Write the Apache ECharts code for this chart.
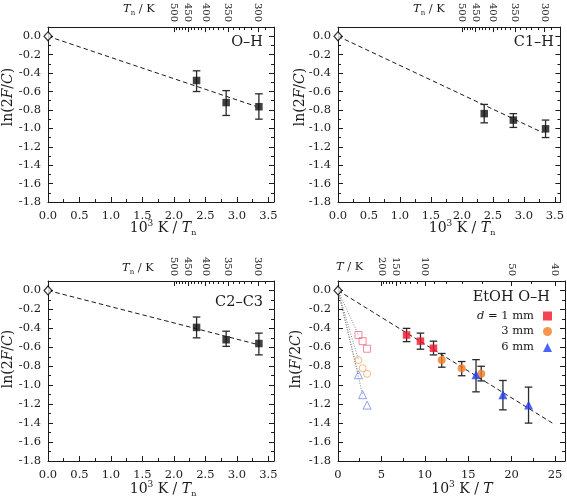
<!DOCTYPE html>
<html><head><meta charset="utf-8">
<script src="https://cdn.jsdelivr.net/npm/echarts@6/dist/echarts.min.js"></script>
<style>html,body{margin:0;padding:0;background:#fff}#c{width:567px;height:502px}</style>
</head><body><div id="c"></div>
<script>
const FONT = 'DejaVu Serif';
const C = '#1a1a1a';

// ---- tick labels ----
const xLabelsN = [0, 0.5, 1, 1.5, 2, 2.5, 3, 3.5];
const xMinorN = [0.25, 0.75, 1.25, 1.75, 2.25, 2.75, 3.25];
const xLabelsT = [0, 5, 10, 15, 20, 25];
const xMinorT = [2.5, 7.5, 12.5, 17.5, 22.5];
const yLabels = [-1.8, -1.6, -1.4, -1.2, -1.0, -0.8, -0.6, -0.4, -0.2, 0.0];
const yMinor = [-1.7, -1.5, -1.3, -1.1, -0.9, -0.7, -0.5, -0.3, -0.1];
const tnMajor = [500, 450, 400, 350, 300];
const tnMinor = [490, 480, 470, 460, 440, 430, 420, 410, 390, 380, 370, 360, 340, 330, 320, 310, 290];
const tMajor = [200, 150, 100, 50, 40];
const tMinor = [190, 180, 170, 160, 140, 130, 120, 110, 90, 80, 70, 60, 45];

// ---- data: panel O–H ----
const ohX = [2.36, 2.83, 3.35];
const ohY = [-0.48, -0.72, -0.765];
const ohLo = [-0.60, -0.86, -0.90];
const ohHi = [-0.375, -0.59, -0.625];
const ohFit = [[0, 0], [3.3, -0.76]];
// ---- panel C1–H ----
const c1X = [2.36, 2.83, 3.35];
const c1Y = [-0.84, -0.91, -1.005];
const c1Lo = [-0.94, -0.99, -1.10];
const c1Hi = [-0.74, -0.84, -0.91];
const c1Fit = [[0, 0], [3.3, -1.045]];
// ---- panel C2–C3 ----
const c2X = [2.36, 2.83, 3.35];
const c2Y = [-0.39, -0.52, -0.56];
const c2Lo = [-0.50, -0.59, -0.68];
const c2Hi = [-0.28, -0.43, -0.45];
const c2Fit = [[0, 0], [3.3, -0.565]];
// ---- panel EtOH O–H ----
const d1X = [7.9, 9.5, 11.0];
const d1Y = [-0.47, -0.535, -0.61];
const d1Lo = [-0.54, -0.62, -0.68];
const d1Hi = [-0.40, -0.45, -0.535];
const d3X = [11.95, 14.25, 16.5];
const d3Y = [-0.735, -0.82, -0.88];
const d3Lo = [-0.81, -0.90, -0.955];
const d3Hi = [-0.665, -0.75, -0.80];
const d6X = [15.9, 19.0, 21.95];
const d6Y = [-0.89, -1.10, -1.21];
const d6Lo = [-1.07, -1.26, -1.40];
const d6Hi = [-0.73, -0.95, -1.02];
const openX = [2.36, 2.83, 3.35];
const open1Y = [-0.47, -0.535, -0.615];
const open3Y = [-0.735, -0.82, -0.88];
const open6Y = [-0.89, -1.10, -1.21];
const etFit = [[0, 0], [24.7, -1.40]];
const guide1 = [[0, 0], [2.36, -0.47]];
const guide3 = [[0, 0], [2.36, -0.735]];
const guide6a = [[0, 0], [2.36, -0.89]];
const guide6b = [[0, 0], [2.83, -1.10]];
const origin = [[0, 0]];

const RED = '#f0142a', ORANGE = '#f57b20', BLUE = '#1f3cf5';
const RED_L = '#f26c80', ORANGE_L = '#f8a566', BLUE_L = '#7288f0';

const grids = [
  {left: 48, top: 22, width: 226, height: 180},
  {left: 338, top: 22, width: 227, height: 180},
  {left: 48, top: 281, width: 226, height: 180},
  {left: 338, top: 281, width: 227, height: 180}
];
const inv = t => 1000 / t;
function tick(len, vals) {
  return {show: true, inside: true, length: len, customValues: vals, lineStyle: {color: C, width: 1}};
}
const lineOn = {show: true, onZero: false, lineStyle: {color: C, width: 1}};
const lineOff = {show: false, onZero: false};

function makeX(g, max, labels, minor, fmt, topMajor, topMinor) {
  const base = {type: 'value', gridIndex: g, min: 0, max: max, splitLine: {show: false}};
  return [
    Object.assign({}, base, {position: 'bottom', axisLine: lineOn, axisTick: tick(5, labels),
      axisLabel: {customValues: labels, formatter: fmt, margin: 8, fontSize: 11.5, fontFamily: FONT, color: C}}),
    Object.assign({}, base, {position: 'bottom', axisLine: lineOff, axisTick: tick(3, minor), axisLabel: {show: false}}),
    Object.assign({}, base, {position: 'top', axisLine: lineOn, axisTick: tick(5, topMajor.map(inv)),
      axisLabel: {customValues: topMajor.map(inv), formatter: v => String(Math.round(1000 / v)), rotate: 90,
        margin: 5, fontSize: 10, fontFamily: FONT, color: C}}),
    Object.assign({}, base, {position: 'top', axisLine: lineOff, axisTick: tick(3, topMinor.map(inv)), axisLabel: {show: false}})
  ];
}
function makeY(g) {
  const base = {type: 'value', gridIndex: g, min: -1.8, max: 0.1, splitLine: {show: false}};
  return [
    Object.assign({}, base, {position: 'left', axisLine: lineOn, axisTick: tick(5, yLabels),
      axisLabel: {customValues: yLabels, formatter: v => v.toFixed(1), margin: 7, fontSize: 11.5, fontFamily: FONT, color: C}}),
    Object.assign({}, base, {position: 'left', axisLine: lineOff, axisTick: tick(3, yMinor), axisLabel: {show: false}}),
    Object.assign({}, base, {position: 'right', axisLine: lineOn, axisTick: tick(5, yLabels), axisLabel: {show: false}}),
    Object.assign({}, base, {position: 'right', axisLine: lineOff, axisTick: tick(3, yMinor), axisLabel: {show: false}})
  ];
}
const fmtN = v => v.toFixed(1);
const fmtT = v => String(v);
const xAxes = [].concat(
  makeX(0, 3.59, xLabelsN, xMinorN, fmtN, tnMajor, tnMinor),
  makeX(1, 3.59, xLabelsN, xMinorN, fmtN, tnMajor, tnMinor),
  makeX(2, 3.59, xLabelsN, xMinorN, fmtN, tnMajor, tnMinor),
  makeX(3, 26.15, xLabelsT, xMinorT, fmtT, tMajor, tMinor)
);
const yAxes = [].concat(makeY(0), makeY(1), makeY(2), makeY(3));

function pairs(xs, ys) { return xs.map((x, i) => [x, ys[i]]); }
function errSeries(g, xs, lo, hi) {
  return {
    type: 'custom', xAxisIndex: 4 * g, yAxisIndex: 4 * g, z: 3, silent: true,
    data: xs.map((x, i) => [x, lo[i], hi[i]]), encode: {x: 0, y: [1, 2]},
    renderItem: function (params, api) {
      const x = api.value(0);
      const p1 = api.coord([x, api.value(1)]);
      const p2 = api.coord([x, api.value(2)]);
      const h = 3.8;
      const st = {stroke: '#2a2a2a', lineWidth: 1.3};
      return {type: 'group', children: [
        {type: 'line', shape: {x1: p1[0], y1: p1[1], x2: p2[0], y2: p2[1]}, style: st},
        {type: 'line', shape: {x1: p1[0] - h, y1: p1[1], x2: p1[0] + h, y2: p1[1]}, style: st},
        {type: 'line', shape: {x1: p2[0] - h, y1: p2[1], x2: p2[0] + h, y2: p2[1]}, style: st}
      ]};
    }
  };
}
function ptSeries(g, name, xs, ys, symbol, size, color) {
  return {type: 'scatter', name: name, xAxisIndex: 4 * g, yAxisIndex: 4 * g, z: 4, silent: true,
    data: pairs(xs, ys), symbol: symbol, symbolSize: size, itemStyle: {color: color}};
}
function openSeries(g, xs, ys, symbol, size, color) {
  return {type: 'scatter', xAxisIndex: 4 * g, yAxisIndex: 4 * g, z: 4, silent: true,
    data: pairs(xs, ys), symbol: symbol, symbolSize: size,
    itemStyle: {color: 'rgba(255,255,255,0)', borderColor: color, borderWidth: 1}};
}
function lineSeries(g, data, type, color) {
  return {type: 'line', xAxisIndex: 4 * g, yAxisIndex: 4 * g, z: 2, silent: true, data: data,
    symbol: 'none', lineStyle: {color: color, width: 1, type: type}};
}
function originSeries(g) {
  return {type: 'scatter', xAxisIndex: 4 * g, yAxisIndex: 4 * g, z: 5, silent: true, clip: false,
    data: origin, symbol: 'diamond', symbolSize: [8, 9],
    itemStyle: {color: '#fff', borderColor: '#000', borderWidth: 1.2}};
}

const series = [
  lineSeries(0, ohFit, [4.5, 3], C), errSeries(0, ohX, ohLo, ohHi), ptSeries(0, 'oh', ohX, ohY, 'rect', 7.5, '#111'), originSeries(0),
  lineSeries(1, c1Fit, [4.5, 3], C), errSeries(1, c1X, c1Lo, c1Hi), ptSeries(1, 'c1', c1X, c1Y, 'rect', 7.5, '#111'), originSeries(1),
  lineSeries(2, c2Fit, [4.5, 3], C), errSeries(2, c2X, c2Lo, c2Hi), ptSeries(2, 'c2', c2X, c2Y, 'rect', 7.5, '#111'), originSeries(2),
  lineSeries(3, etFit, [4.5, 3], C),
  lineSeries(3, guide1, [1, 1.5], '#888'), lineSeries(3, guide3, [1, 1.5], '#888'),
  lineSeries(3, guide6a, [1, 1.5], '#888'), lineSeries(3, guide6b, [1, 1.5], '#888'),
  openSeries(3, openX, open1Y, 'rect', 7, RED_L),
  openSeries(3, openX, open3Y, 'circle', 7, ORANGE_L),
  openSeries(3, openX, open6Y, 'triangle', 8, BLUE_L),
  errSeries(3, d1X, d1Lo, d1Hi), errSeries(3, d3X, d3Lo, d3Hi), errSeries(3, d6X, d6Lo, d6Hi),
  ptSeries(3, 'd = 1 mm', d1X, d1Y, 'rect', 7.5, RED),
  ptSeries(3, '3 mm', d3X, d3Y, 'circle', 8, ORANGE),
  ptSeries(3, '6 mm', d6X, d6Y, 'triangle', 9, BLUE),
  originSeries(3)
];

const richBase = {
  n: {fontFamily: FONT, fontSize: 14, color: C, lineHeight: 18},
  i: {fontFamily: FONT, fontSize: 14, fontStyle: 'italic', color: C, lineHeight: 18},
  sub: {fontFamily: FONT, fontSize: 8, color: C, verticalAlign: 'bottom', lineHeight: 8},
  sup: {fontFamily: FONT, fontSize: 9, color: C, verticalAlign: 'top', lineHeight: 9}
};
const richSmall = {
  n: {fontFamily: FONT, fontSize: 11.5, color: C, lineHeight: 15},
  i: {fontFamily: FONT, fontSize: 11.5, fontStyle: 'italic', color: C, lineHeight: 15},
  sub: {fontFamily: FONT, fontSize: 7, color: C, verticalAlign: 'bottom', lineHeight: 7}
};
function txt(x, y, text, rich, align, rot) {
  return {type: 'text', x: x, y: y, rotation: rot || 0, silent: true,
    style: {text: text, rich: rich, align: align, textAlign: align, verticalAlign: 'middle', textVerticalAlign: 'middle',
      fill: C, fontFamily: FONT}};
}
function label(x, y, text) {
  return {type: 'text', x: x, y: y, silent: true,
    style: {text: text, align: 'right', textAlign: 'right', verticalAlign: 'middle', textVerticalAlign: 'middle',
      fill: C, font: '14.5px "DejaVu Serif"'}};
}
const yName = '{n|ln(2}{i|F}{n|/}{i|C}{n|)}';
const yName4 = '{n|ln(}{i|F}{n|/2}{i|C}{n|)}';
const xName = '{n|10}{sup|3}{n| K / }{i|T}{sub|n}';
const xName4 = '{n|10}{sup|3}{n| K / }{i|T}';
const tName = '{i|T}{sub|n}{n| / K}';
const tName4 = '{i|T}{n| / K}';

const graphic = [
  txt(8, 97, yName, richBase, 'center', Math.PI / 2),
  txt(300, 97, yName, richBase, 'center', Math.PI / 2),
  txt(8, 359, yName, richBase, 'center', Math.PI / 2),
  txt(296, 359, yName4, richBase, 'center', Math.PI / 2),
  txt(163, 228, xName, richBase, 'center'),
  txt(462, 228, xName, richBase, 'center'),
  txt(163, 489, xName, richBase, 'center'),
  txt(462, 489, xName4, richBase, 'center'),
  txt(123, 9, tName, richSmall, 'left'),
  txt(413, 9, tName, richSmall, 'left'),
  txt(122, 268, tName, richSmall, 'left'),
  txt(336, 267, tName4, richSmall, 'left'),
  label(263, 42, 'O–H'),
  label(554, 42, 'C1–H'),
  label(263, 302, 'C2–C3'),
  label(550, 297, 'EtOH O–H')
];

const legendRich = {
  n: {fontFamily: FONT, fontSize: 11.5, color: C},
  i: {fontFamily: FONT, fontSize: 11.5, fontStyle: 'italic', color: C}
};
function leg(name, top) {
  return {data: [name], right: 15, top: top, orient: 'horizontal', align: 'right', padding: 0,
    itemWidth: 9, itemHeight: 9, selectedMode: false,
    formatter: n => n === 'd = 1 mm' ? '{i|d}{n| = 1 mm}' : '{n|' + n + '}',
    textStyle: {fontFamily: FONT, fontSize: 11.5, color: C, padding: [0, 4, 0, 0], rich: legendRich}};
}

const chart = echarts.init(document.getElementById('c'));
chart.setOption({
  animation: false,
  backgroundColor: '#fff',
  textStyle: {fontFamily: FONT},
  grid: grids,
  xAxis: xAxes,
  yAxis: yAxes,
  series: series,
  legend: [leg('d = 1 mm', 310), leg('3 mm', 325.5), leg('6 mm', 341.5)],
  graphic: graphic
});
</script></body></html>
